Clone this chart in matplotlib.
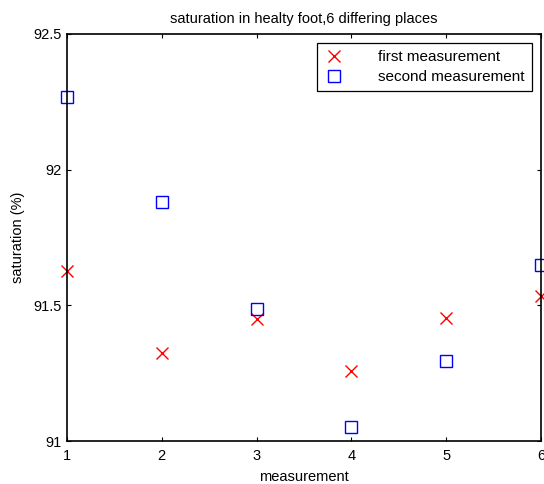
import matplotlib
matplotlib.use("Agg")
import matplotlib.pyplot as plt

plt.rcParams['font.family'] = ['Liberation Sans', 'DejaVu Sans']

measurement = [1, 2, 3, 4, 5, 6]
first = [91.627, 91.324, 91.450, 91.258, 91.453, 91.534]
second = [92.268, 91.881, 91.486, 91.051, 91.295, 91.649]

fig = plt.figure(figsize=(5.44, 4.84), dpi=100)
ax = fig.add_axes([0.123, 0.0888, 0.8715, 0.841])

ax.plot(measurement, first, 'x', color='red', markersize=8, markeredgewidth=1,
        label='first measurement', clip_on=False)
ax.plot(measurement, second, 's', markerfacecolor='none', markeredgecolor='blue',
        markersize=9, markeredgewidth=1, label='second measurement', clip_on=False)

ax.set_xlim(1, 6)
ax.set_ylim(91, 92.5)
ax.set_xticks(measurement)
ax.set_yticks([91, 91.5, 92, 92.5])
ax.set_yticklabels(['91', '91.5', '92', '92.5'])
ax.tick_params(direction='in', top=True, right=True, labelsize=10.5, length=3)
ax.tick_params(axis='x', pad=6)
ax.tick_params(axis='y', pad=4)
for s in ax.spines.values():
    s.set_linewidth(1.2)

ax.set_xlabel('measurement', fontsize=10.5, labelpad=5)
ax.set_ylabel('saturation (%)', fontsize=10.5, labelpad=6)
ax.set_title('saturation in healty foot,6 differing places', fontsize=10.5, pad=8)

leg = ax.legend(loc='upper right', fontsize=11, fancybox=False, framealpha=1,
                edgecolor='black', borderaxespad=0.6, borderpad=0.45,
                labelspacing=0.4, handlelength=1.4, handletextpad=2.2)
leg.get_frame().set_linewidth(0.9)

fig.savefig('out.png', dpi=100)
